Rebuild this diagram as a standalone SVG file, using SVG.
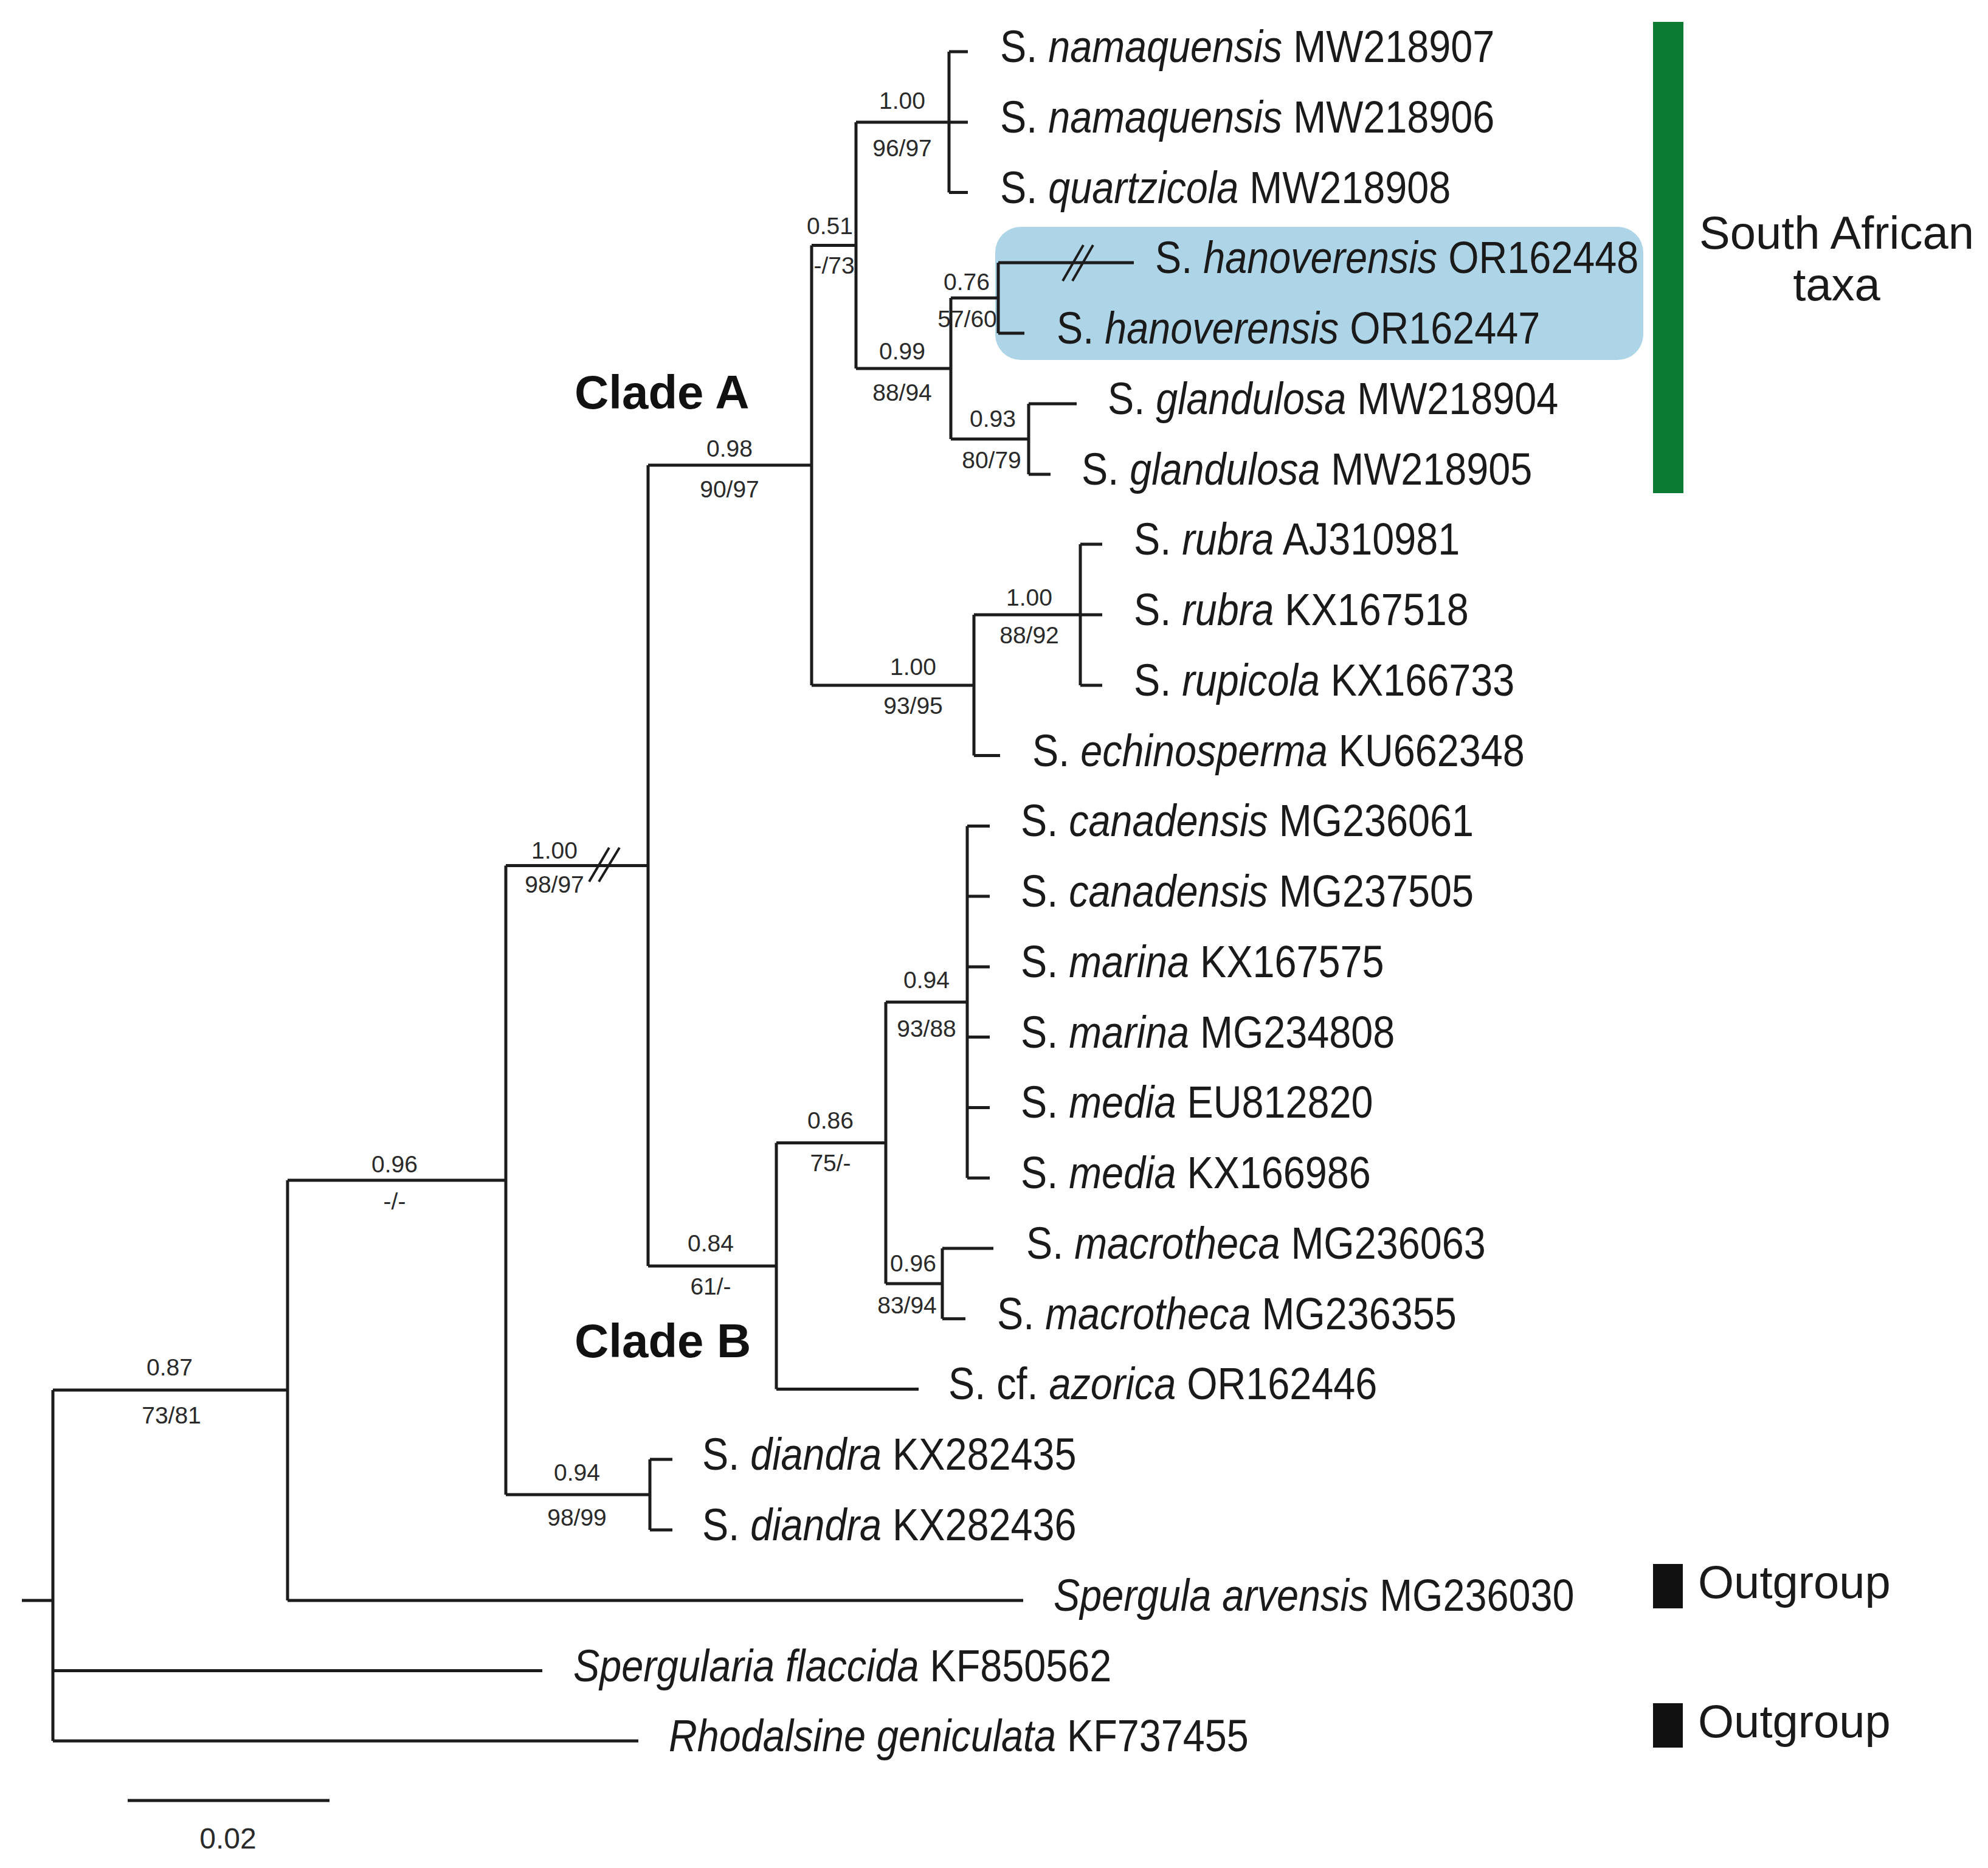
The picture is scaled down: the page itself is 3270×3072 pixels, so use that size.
<svg xmlns="http://www.w3.org/2000/svg" width="3270" height="3072" viewBox="0 0 3270 3072">
<style>
.br{stroke:#1c1c1c;stroke-width:5;fill:none;stroke-linecap:butt}
.brk{stroke:#1c1c1c;stroke-width:4;fill:none}
.leaf{font-family:"Liberation Sans",Arial,sans-serif;font-size:74px;fill:#1a1a1a}
.it{font-style:italic}
.sup{font-family:"Liberation Sans",Arial,sans-serif;font-size:39px;fill:#2a2a2a;text-anchor:middle}
.clade{font-family:"Liberation Sans",Arial,sans-serif;font-size:78px;font-weight:bold;fill:#111}
.legend{font-family:"Liberation Sans",Arial,sans-serif;font-size:76px;fill:#1a1a1a}
</style>
<rect width="3270" height="3072" fill="#ffffff"/>
<rect id="highlight" x="1637" y="373" width="1066" height="219" rx="42" fill="#aed5e7"/>
<g id="connectors">
<path class="br" d="M36,2632H87 M87,2286V2863 M87,2286H473 M87,2747.5H892 M87,2863H1050
M473,1941V2632 M473,1941H832 M473,2632H1683
M832,1423.5V2458 M832,1423.5H1066 M832,2458H1069
M1069,2400V2516 M1069,2400H1106 M1069,2516H1106
M1066,765V2082 M1066,765H1335 M1066,2082H1277
M1335,403.5V1127 M1335,403.5H1408 M1335,1127H1602
M1408,201V606 M1408,201H1561 M1408,606H1564
M1561,85V316.5 M1561,85H1592 M1561,201H1592 M1561,316.5H1592
M1564,490V722 M1564,490H1642 M1564,722H1692
M1642,432V548 M1642,432H1865 M1642,548H1685
M1692,664V780 M1692,664H1771 M1692,780H1728
M1602,1011V1242.6 M1602,1011H1777 M1602,1242.6H1645
M1777,895V1127 M1777,895H1813 M1777,1011H1813 M1777,1127H1813
M1277,1879.5V2284.4 M1277,1879.5H1457 M1277,2284.4H1511
M1457,1648V2111 M1457,1648H1591 M1457,2111H1550
M1591,1358.4V1937.2 M1591,1358.4H1628 M1591,1474H1628 M1591,1589.9H1628 M1591,1705.6H1628 M1591,1821.4H1628 M1591,1937.2H1628
M1550,2053V2168.7 M1550,2053H1634 M1550,2168.7H1588"/>
<path class="brk" d="M969,1450L1002,1394 M985,1450L1019,1394 M1748,462L1782,403 M1764,462L1798,403"/>
<path id="scalebar" class="br" d="M210,2961H542"/>
</g>
<g id="leaf-01"><text class="leaf" transform="translate(1645,102) scale(0.875,1)"><tspan>S. </tspan><tspan class="it">namaquensis</tspan><tspan> MW218907</tspan></text></g>
<g id="leaf-02"><text class="leaf" transform="translate(1645,218) scale(0.875,1)"><tspan>S. </tspan><tspan class="it">namaquensis</tspan><tspan> MW218906</tspan></text></g>
<g id="leaf-03"><text class="leaf" transform="translate(1645,334) scale(0.875,1)"><tspan>S. </tspan><tspan class="it">quartzicola</tspan><tspan> MW218908</tspan></text></g>
<g id="leaf-04"><text class="leaf" transform="translate(1900,449) scale(0.875,1)"><tspan>S. </tspan><tspan class="it">hanoverensis</tspan><tspan> OR162448</tspan></text></g>
<g id="leaf-05"><text class="leaf" transform="translate(1738,565) scale(0.875,1)"><tspan>S. </tspan><tspan class="it">hanoverensis</tspan><tspan> OR162447</tspan></text></g>
<g id="leaf-06"><text class="leaf" transform="translate(1822,681) scale(0.875,1)"><tspan>S. </tspan><tspan class="it">glandulosa</tspan><tspan> MW218904</tspan></text></g>
<g id="leaf-07"><text class="leaf" transform="translate(1779,797) scale(0.875,1)"><tspan>S. </tspan><tspan class="it">glandulosa</tspan><tspan> MW218905</tspan></text></g>
<g id="leaf-08"><text class="leaf" transform="translate(1865,912) scale(0.875,1)"><tspan>S. </tspan><tspan class="it">rubra</tspan><tspan> AJ310981</tspan></text></g>
<g id="leaf-09"><text class="leaf" transform="translate(1865,1028) scale(0.875,1)"><tspan>S. </tspan><tspan class="it">rubra</tspan><tspan> KX167518</tspan></text></g>
<g id="leaf-10"><text class="leaf" transform="translate(1865,1144) scale(0.875,1)"><tspan>S. </tspan><tspan class="it">rupicola</tspan><tspan> KX166733</tspan></text></g>
<g id="leaf-11"><text class="leaf" transform="translate(1698,1260) scale(0.875,1)"><tspan>S. </tspan><tspan class="it">echinosperma</tspan><tspan> KU662348</tspan></text></g>
<g id="leaf-12"><text class="leaf" transform="translate(1679,1375) scale(0.875,1)"><tspan>S. </tspan><tspan class="it">canadensis</tspan><tspan> MG236061</tspan></text></g>
<g id="leaf-13"><text class="leaf" transform="translate(1679,1491) scale(0.875,1)"><tspan>S. </tspan><tspan class="it">canadensis</tspan><tspan> MG237505</tspan></text></g>
<g id="leaf-14"><text class="leaf" transform="translate(1679,1607) scale(0.875,1)"><tspan>S. </tspan><tspan class="it">marina</tspan><tspan> KX167575</tspan></text></g>
<g id="leaf-15"><text class="leaf" transform="translate(1679,1723) scale(0.875,1)"><tspan>S. </tspan><tspan class="it">marina</tspan><tspan> MG234808</tspan></text></g>
<g id="leaf-16"><text class="leaf" transform="translate(1679,1838) scale(0.875,1)"><tspan>S. </tspan><tspan class="it">media</tspan><tspan> EU812820</tspan></text></g>
<g id="leaf-17"><text class="leaf" transform="translate(1679,1954) scale(0.875,1)"><tspan>S. </tspan><tspan class="it">media</tspan><tspan> KX166986</tspan></text></g>
<g id="leaf-18"><text class="leaf" transform="translate(1688,2070) scale(0.875,1)"><tspan>S. </tspan><tspan class="it">macrotheca</tspan><tspan> MG236063</tspan></text></g>
<g id="leaf-19"><text class="leaf" transform="translate(1640,2186) scale(0.875,1)"><tspan>S. </tspan><tspan class="it">macrotheca</tspan><tspan> MG236355</tspan></text></g>
<g id="leaf-20"><text class="leaf" transform="translate(1560,2301) scale(0.875,1)"><tspan>S. cf. </tspan><tspan class="it">azorica</tspan><tspan> OR162446</tspan></text></g>
<g id="leaf-21"><text class="leaf" transform="translate(1155,2417) scale(0.875,1)"><tspan>S. </tspan><tspan class="it">diandra</tspan><tspan> KX282435</tspan></text></g>
<g id="leaf-22"><text class="leaf" transform="translate(1155,2533) scale(0.875,1)"><tspan>S. </tspan><tspan class="it">diandra</tspan><tspan> KX282436</tspan></text></g>
<g id="leaf-23"><text class="leaf" transform="translate(1733,2649) scale(0.875,1)"><tspan class="it">Spergula arvensis</tspan><tspan> MG236030</tspan></text></g>
<g id="leaf-24"><text class="leaf" transform="translate(943,2765) scale(0.875,1)"><tspan class="it">Spergularia flaccida</tspan><tspan> KF850562</tspan></text></g>
<g id="leaf-25"><text class="leaf" transform="translate(1100,2880) scale(0.875,1)"><tspan class="it">Rhodalsine geniculata</tspan><tspan> KF737455</tspan></text></g>
<g id="node-namaquensis"><text class="sup" x="1484" y="179">1.00</text><text class="sup" x="1484" y="257">96/97</text></g>
<g id="node-051"><text class="sup" x="1365" y="385">0.51</text><text class="sup" x="1372" y="450">-/73</text></g>
<g id="node-hanoverensis"><text class="sup" x="1590" y="477">0.76</text><text class="sup" x="1591" y="538">57/60</text></g>
<g id="node-099"><text class="sup" x="1484" y="591">0.99</text><text class="sup" x="1484" y="659">88/94</text></g>
<g id="node-glandulosa"><text class="sup" x="1633" y="702">0.93</text><text class="sup" x="1631" y="770">80/79</text></g>
<g id="node-cladeA"><text class="sup" x="1200" y="751">0.98</text><text class="sup" x="1200" y="818">90/97</text><text class="clade" x="945" y="672">Clade A</text></g>
<g id="node-rubra"><text class="sup" x="1693" y="996">1.00</text><text class="sup" x="1693" y="1058">88/92</text></g>
<g id="node-echinosperma"><text class="sup" x="1502" y="1110">1.00</text><text class="sup" x="1502" y="1174">93/95</text></g>
<g id="node-AB"><text class="sup" x="912" y="1412">1.00</text><text class="sup" x="912" y="1468">98/97</text></g>
<g id="node-canadensis"><text class="sup" x="1524" y="1625">0.94</text><text class="sup" x="1524" y="1705">93/88</text></g>
<g id="node-086"><text class="sup" x="1366" y="1856">0.86</text><text class="sup" x="1366" y="1926">75/-</text></g>
<g id="node-096a"><text class="sup" x="649" y="1928">0.96</text><text class="sup" x="649" y="1989">-/-</text></g>
<g id="node-cladeB"><text class="sup" x="1169" y="2058">0.84</text><text class="sup" x="1169" y="2129">61/-</text><text class="clade" x="945" y="2232">Clade B</text></g>
<g id="node-macrotheca"><text class="sup" x="1502" y="2091">0.96</text><text class="sup" x="1492" y="2160">83/94</text></g>
<g id="node-087"><text class="sup" x="279" y="2262">0.87</text><text class="sup" x="282" y="2341">73/81</text></g>
<g id="node-diandra"><text class="sup" x="949" y="2435">0.94</text><text class="sup" x="949" y="2509">98/99</text></g>
<g id="legend-sa"><rect x="2719" y="36" width="50" height="775" fill="#0a7b30"/><text class="legend" x="3021" y="409" text-anchor="middle">South African</text><text class="legend" x="3021" y="494" text-anchor="middle">taxa</text></g>
<g id="legend-out1"><rect x="2719" y="2572" width="49" height="73" fill="#111"/><text class="legend" x="2793" y="2628">Outgroup</text></g>
<g id="legend-out2"><rect x="2719" y="2801" width="49" height="73" fill="#111"/><text class="legend" x="2793" y="2857">Outgroup</text></g>
<g id="scale-label"><text class="sup" x="375" y="3040" style="font-size:48px">0.02</text></g>
</svg>
